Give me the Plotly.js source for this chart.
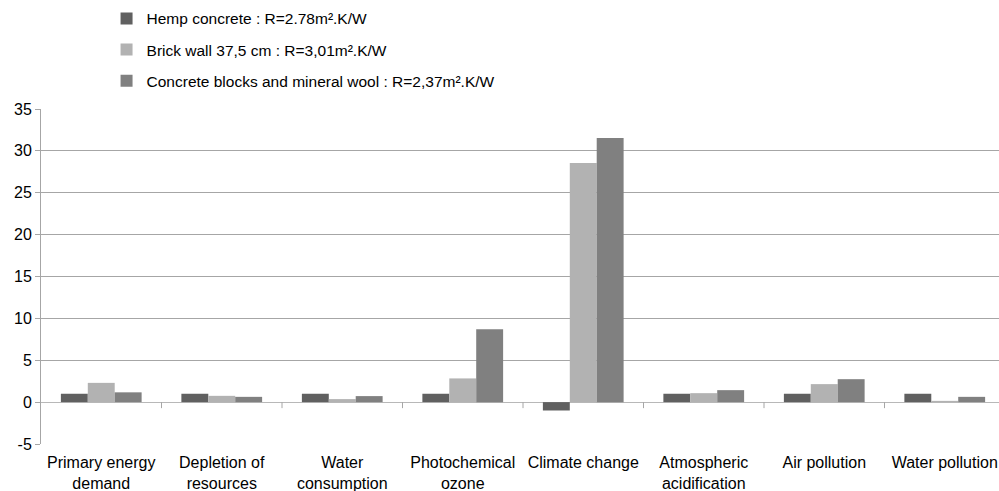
<!DOCTYPE html>
<html>
<head>
<meta charset="utf-8">
<script src="https://cdn.plot.ly/plotly-3.0.1.min.js"></script>
<style>
html,body{margin:0;padding:0;overflow:hidden;background:#fff;}
#chart{width:1005px;height:491px;}
</style>
</head>
<body>
<div id="chart"></div>
<script>
const categories = [
  "Primary energy<br>demand",
  "Depletion of<br>resources",
  "Water<br>consumption",
  "Photochemical<br>ozone",
  "Climate change",
  "Atmospheric<br>acidification",
  "Air pollution",
  "Water pollution"
];
const seriesNames = [
  "Hemp concrete : R=2.78m².K/W",
  "Brick wall 37,5 cm : R=3,01m².K/W",
  "Concrete blocks and mineral wool : R=2,37m².K/W"
];
const hempValues = [1, 1, 1, 1, -1, 1, 1, 1];
const brickValues = [2.3, 0.75, 0.36, 2.83, 28.55, 1.07, 2.15, 0.15];
const concreteValues = [1.17, 0.63, 0.72, 8.7, 31.55, 1.43, 2.74, 0.63];
const yTicks = [-5, 0, 5, 10, 15, 20, 25, 30, 35];
const colors = ["#606060", "#b2b2b2", "#808080"];

const allValues = [hempValues, brickValues, concreteValues];
const traces = allValues.map((vals, i) => ({
  type: "bar",
  x: categories,
  y: vals,
  name: seriesNames[i],
  legendgroup: "g" + i,
  marker: {color: colors[i], line: {width: 0}},
  hoverinfo: "y"
}));

// small tick marks on the zero line between categories
const shapes = categories.slice(1).map((c, i) => ({
  type: "line",
  xref: "x", yref: "y",
  x0: i + 0.5, x1: i + 0.5,
  ysizemode: "pixel", yanchor: 0,
  y0: 0, y1: -6,
  line: {color: "#a6a6a6", width: 1}
}));

const layout = {
  width: 1005,
  height: 491,
  margin: {l: 41, r: 0, t: 109, b: 47},
  paper_bgcolor: "#ffffff",
  plot_bgcolor: "#ffffff",
  font: {family: "Liberation Sans, Arial, sans-serif", size: 16, color: "#000"},
  barmode: "group",
  bargap: 0.33,
  bargroupgap: 0,
  showlegend: true,
  legend: {
    x: 0.068, xanchor: "left",
    y: 1.32, yanchor: "top",
    orientation: "v",
    traceorder: "grouped",
    tracegroupgap: 8,
    font: {size: 15.5, color: "#000"},
    bgcolor: "rgba(0,0,0,0)"
  },
  xaxis: {
    type: "category",
    showgrid: false,
    showline: false,
    ticks: "",
    ticklabelstandoff: 7,
    tickfont: {size: 16},
    fixedrange: true
  },
  yaxis: {
    range: [-5, 35],
    tickvals: yTicks,
    ticktext: yTicks.map(String),
    showgrid: true,
    gridcolor: "#a6a6a6",
    gridwidth: 1,
    zeroline: true,
    zerolinecolor: "#b8b8b8",
    zerolinewidth: 1,
    showline: true,
    linecolor: "#a6a6a6",
    linewidth: 1,
    ticks: "outside",
    ticklen: 5,
    tickcolor: "#a6a6a6",
    tickfont: {size: 16},
    fixedrange: true
  },
  shapes: shapes
};

Plotly.newPlot("chart", traces, layout, {displayModeBar: false, staticPlot: true});
</script>
</body>
</html>
